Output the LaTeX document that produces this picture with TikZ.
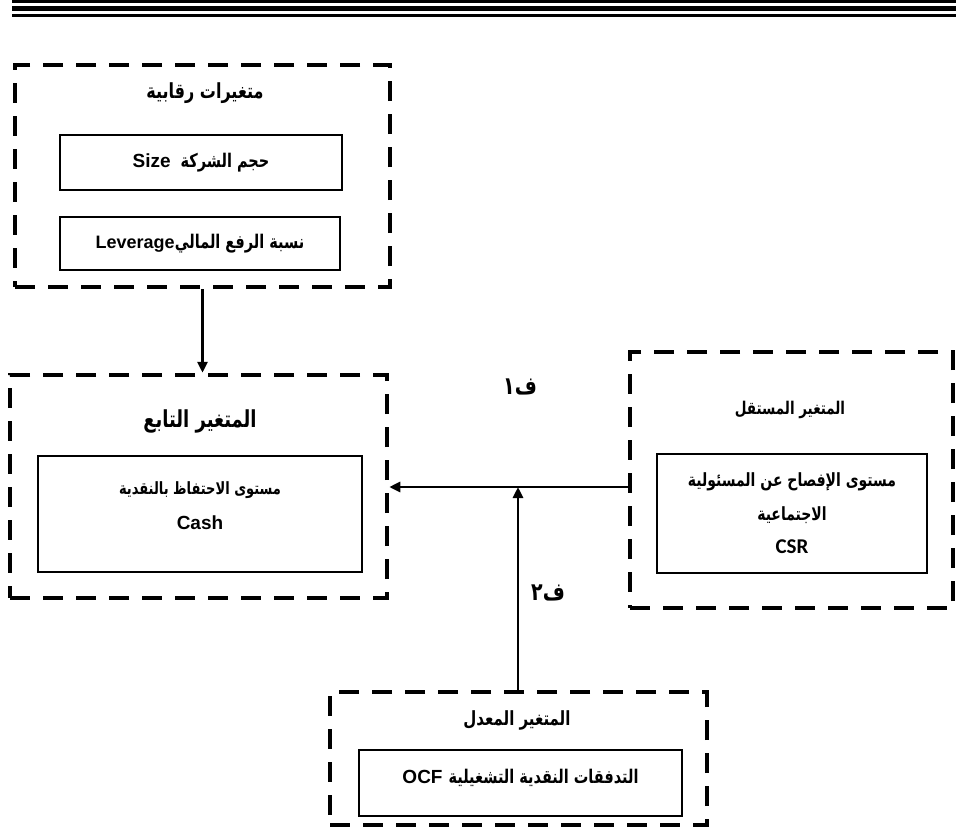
\documentclass[tikz,border=0pt]{standalone}
\usepackage{fontspec}
\usetikzlibrary{arrows.meta}
\TeXXeTstate=1
\newfontfamily\arabicfont[Script=Arabic]{DejaVu Sans}
\newfontfamily\latinfont{Liberation Sans}
\newfontfamily\calfont{Carlito}
\newcommand{\ar}[1]{\scalebox{1}[1.3]{\arabicfont\bfseries\beginR #1\endR}}
\newcommand{\LT}[1]{{\latinfont\bfseries #1}}
\tikzset{
  outer/.style={draw, line width=4.5pt, dash pattern=on 20pt off 13pt, minimum width=#1, inner sep=0pt},
  inner/.style={draw, line width=2.8pt, inner sep=0pt},
  arr/.style={line width=2.8pt, -{Triangle[length=11pt,width=10pt]}},
  ttl/.style={font=\fontsize{15}{18}\selectfont, inner sep=0pt},
  txt/.style={font=\fontsize{14}{22}\selectfont, align=center, inner sep=0pt}
}
\begin{document}
\begin{tikzpicture}[x=1pt,y=-1pt]
\useasboundingbox (0,0) rectangle (956,830);
% header rules
\fill (12,0) rectangle (956,3);
\fill (12,6) rectangle (956,11);
\fill (12,13.5) rectangle (956,16.5);
% outer dashed boxes
\node[outer=375pt, minimum height=222pt] (ctrl) at (202.5,176) {};
\node[outer=377pt, minimum height=223pt] (dep) at (198.5,486.5) {};
\node[outer=323pt, minimum height=256pt] (indep) at (791.5,480) {};
\node[outer=377pt, minimum height=133pt] (mod) at (518.5,758.5) {};
% titles
\node[font=\fontsize{16}{18}\selectfont, inner sep=0pt] (ctrlt) at (205,93) {\ar{متغيرات رقابية}};
\node[font=\fontsize{18}{22}\selectfont, inner sep=0pt] (dept) at (200,421) {\ar{المتغير التابع}};
\node[font=\fontsize{13.5}{18}\selectfont, inner sep=0pt] (indept) at (790,410) {\ar{المتغير المستقل}};
\node[ttl] (modt) at (517,720) {\ar{المتغير المعدل}};
% inner boxes
\node[inner, minimum width=282pt, minimum height=55pt] (size) at (201,162.5) {};
\node[inner, minimum width=280pt, minimum height=53pt] (lev) at (200,243.5) {};
\node[inner, minimum width=324pt, minimum height=116pt] (cash) at (200,514) {};
\node[inner, minimum width=270pt, minimum height=119pt] (csr) at (792,513.5) {};
\node[inner, minimum width=323pt, minimum height=66pt] (ocf) at (520.5,783) {};
% box texts (Latin word placed on the left, as in right-to-left reading)
\node[txt, font=\fontsize{14.5}{22}\selectfont] (sizet) at (size.center) {\LT{\fontsize{19}{22}\selectfont Size}\hspace{10pt}\ar{حجم الشركة}};
\node[txt, font=\fontsize{14.5}{22}\selectfont] (levt) at (lev.center) {\LT{\fontsize{18}{22}\selectfont Leverage}\ar{نسبة الرفع المالي}};
\node[txt, font=\fontsize{13}{35}\selectfont] (casht) at (200,506) {\ar{مستوى الاحتفاظ بالنقدية}\\\LT{\fontsize{19}{22}\selectfont Cash}};
\node[txt, font=\fontsize{14}{33.5}\selectfont] (csrt) at (csr.center) {\ar{مستوى الإفصاح عن المسئولية}\\\ar{الاجتماعية}\\{\calfont\bfseries\fontsize{21}{22}\selectfont CSR}};
\node[txt, font=\fontsize{14.5}{22}\selectfont] (ocft) at (520.5,778) {\LT{\fontsize{19}{22}\selectfont OCF}\hspace{6pt}\ar{التدفقات النقدية التشغيلية}};
% connectors
\coordinate (j) at (518,487);
\draw[arr] (ctrl.south) -- (ctrl.south |- dep.north);
\draw[arr] (indep.west |- j) -- (dep.east |- j);
\draw[arr] (mod.north -| j) -- (j);
\node[font=\fontsize{19}{22}\selectfont, inner sep=0pt] (h1) at (520,387) {\ar{ف١}};
\node[font=\fontsize{19}{22}\selectfont, inner sep=0pt] (h2) at (548,593) {\ar{ف٢}};
\end{tikzpicture}
\end{document}
